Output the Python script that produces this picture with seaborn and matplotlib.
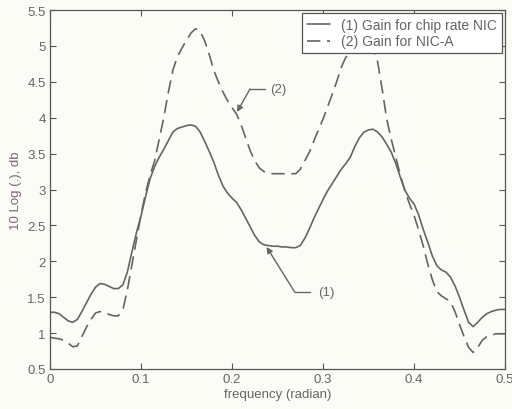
import numpy as np
import pandas as pd
import matplotlib
matplotlib.use("Agg")
import matplotlib.pyplot as plt
import seaborn as sns

# ---- data ----
freq = [i * 0.005 for i in range(101)]

gain_chip = [1.29, 1.29, 1.27, 1.22, 1.17, 1.15, 1.19, 1.30, 1.42, 1.54,
             1.64, 1.69, 1.68, 1.65, 1.62, 1.62, 1.67, 1.85, 2.13, 2.40,
             2.63, 2.90, 3.15, 3.32, 3.45, 3.56, 3.68, 3.80, 3.85, 3.87,
             3.89, 3.90, 3.88, 3.80, 3.67, 3.53, 3.38, 3.20, 3.05, 2.95,
             2.88, 2.82, 2.72, 2.60, 2.48, 2.36, 2.27, 2.23, 2.22, 2.21,
             2.21, 2.20, 2.20, 2.19, 2.19, 2.22, 2.32, 2.45, 2.60, 2.73,
             2.86, 2.98, 3.08, 3.18, 3.28, 3.36, 3.45, 3.60, 3.72, 3.80,
             3.83, 3.84, 3.80, 3.73, 3.63, 3.52, 3.36, 3.17, 2.99, 2.88,
             2.80, 2.65, 2.45, 2.27, 2.08, 1.94, 1.88, 1.85, 1.78, 1.66,
             1.50, 1.32, 1.15, 1.09, 1.15, 1.22, 1.27, 1.30, 1.32, 1.33,
             1.33]

gain_nica = [0.94, 0.93, 0.92, 0.90, 0.86, 0.81, 0.82, 0.95, 1.08, 1.19,
             1.28, 1.30, 1.28, 1.26, 1.24, 1.24, 1.32, 1.60, 1.95, 2.30,
             2.65, 2.95, 3.20, 3.40, 3.70, 4.00, 4.35, 4.66, 4.85, 4.97,
             5.08, 5.18, 5.24, 5.20, 5.07, 4.88, 4.66, 4.50, 4.36, 4.24,
             4.14, 4.05, 3.90, 3.72, 3.54, 3.40, 3.30, 3.25, 3.23, 3.22,
             3.22, 3.22, 3.22, 3.22, 3.22, 3.28, 3.40, 3.52, 3.68, 3.83,
             3.98, 4.15, 4.32, 4.50, 4.70, 4.84, 4.92, 4.97, 5.02, 5.05,
             5.04, 4.95, 4.78, 4.40, 3.98, 3.70, 3.45, 3.20, 2.98, 2.80,
             2.64, 2.44, 2.22, 1.97, 1.75, 1.58, 1.52, 1.48, 1.44, 1.30,
             1.12, 0.95, 0.80, 0.73, 0.80, 0.90, 0.95, 0.97, 0.99, 0.99,
             0.99]

series_labels = ["(1) Gain for chip rate NIC", "(2) Gain for NIC-A"]
x_ticks = [0, 0.1, 0.2, 0.3, 0.4, 0.5]
x_tick_labels = ["0", "0.1", "0.2", "0.3", "0.4", "0.5"]
y_ticks = [0.5, 1, 1.5, 2, 2.5, 3, 3.5, 4, 4.5, 5, 5.5]
y_tick_labels = ["0.5", "1", "1.5", "2", "2.5", "3", "3.5", "4", "4.5", "5", "5.5"]

# annotation: text, text position, knee, tip
ann_texts = ["(2)", "(1)"]
ann_text_pos = [(0.242, 4.40), (0.2945, 1.57)]
ann_seg_end = [(0.236, 4.40), (0.2857, 1.57)]
ann_knee = [(0.2198, 4.40), (0.269, 1.57)]
ann_tip = [(0.2055, 4.08), (0.238, 2.20)]

# ---- plotting ----
sns.set_style("ticks")
plt.rcParams["font.family"] = ["Liberation Sans", "DejaVu Sans"]

line_col = "#656565"
text_col = "#656565"
bg = "#fcfcf7"

fig = plt.figure(figsize=(5.12, 4.10), dpi=100, facecolor=bg)
ax = fig.add_axes([50 / 512, 1 - 370 / 410, 455 / 512, 359 / 410])
ax.set_facecolor(bg)

df = pd.DataFrame({"freq": freq, "g1": gain_chip, "g2": gain_nica})
sns.lineplot(data=df, x="freq", y="g1", ax=ax, color=line_col, lw=1.2,
             label=series_labels[0])
sns.lineplot(data=df, x="freq", y="g2", ax=ax, color=line_col, lw=1.2,
             label=series_labels[1], dashes=False)
ax.lines[1].set_dashes((8, 4))

for t, tp, se, kn, tip in zip(ann_texts, ann_text_pos, ann_seg_end, ann_knee, ann_tip):
    ax.text(tp[0], tp[1], t, ha="left", va="center", fontsize=9.5, color=text_col)
    ax.plot([kn[0], se[0]], [kn[1], se[1]], color=line_col, lw=1.0)
    ax.annotate("", xy=tip, xytext=kn,
                arrowprops=dict(arrowstyle="-|>", color=line_col, lw=1.0,
                                mutation_scale=9, shrinkA=0, shrinkB=0))

ax.set_xlim(0, 0.5)
ax.set_ylim(0.5, 5.5)
ax.set_xticks(x_ticks)
ax.set_xticklabels(x_tick_labels)
ax.set_yticks(y_ticks)
ax.set_yticklabels(y_tick_labels)
ax.tick_params(direction="in", top=True, right=True, length=4, width=0.8,
               labelsize=9.5, labelcolor=text_col, color="#555555", pad=3)
for s in ax.spines.values():
    s.set_visible(True)
    s.set_color("#555555")
    s.set_linewidth(0.9)

ax.set_xlabel("frequency (radian)", fontsize=9.5, color=text_col, labelpad=2)
ax.set_ylabel("10 Log (.), db", fontsize=9.5, color="#806080", labelpad=4)

leg = ax.legend(loc="upper right", fontsize=10, frameon=True, fancybox=False,
                framealpha=1, edgecolor="#555555", borderaxespad=0.2,
                handlelength=1.7, handletextpad=0.8, borderpad=0.35,
                labelspacing=0.2)
leg.get_frame().set_facecolor("white")
leg.get_frame().set_linewidth(0.9)
for txt in leg.get_texts():
    txt.set_color(text_col)

fig.savefig("out.png", dpi=100, facecolor=bg)
